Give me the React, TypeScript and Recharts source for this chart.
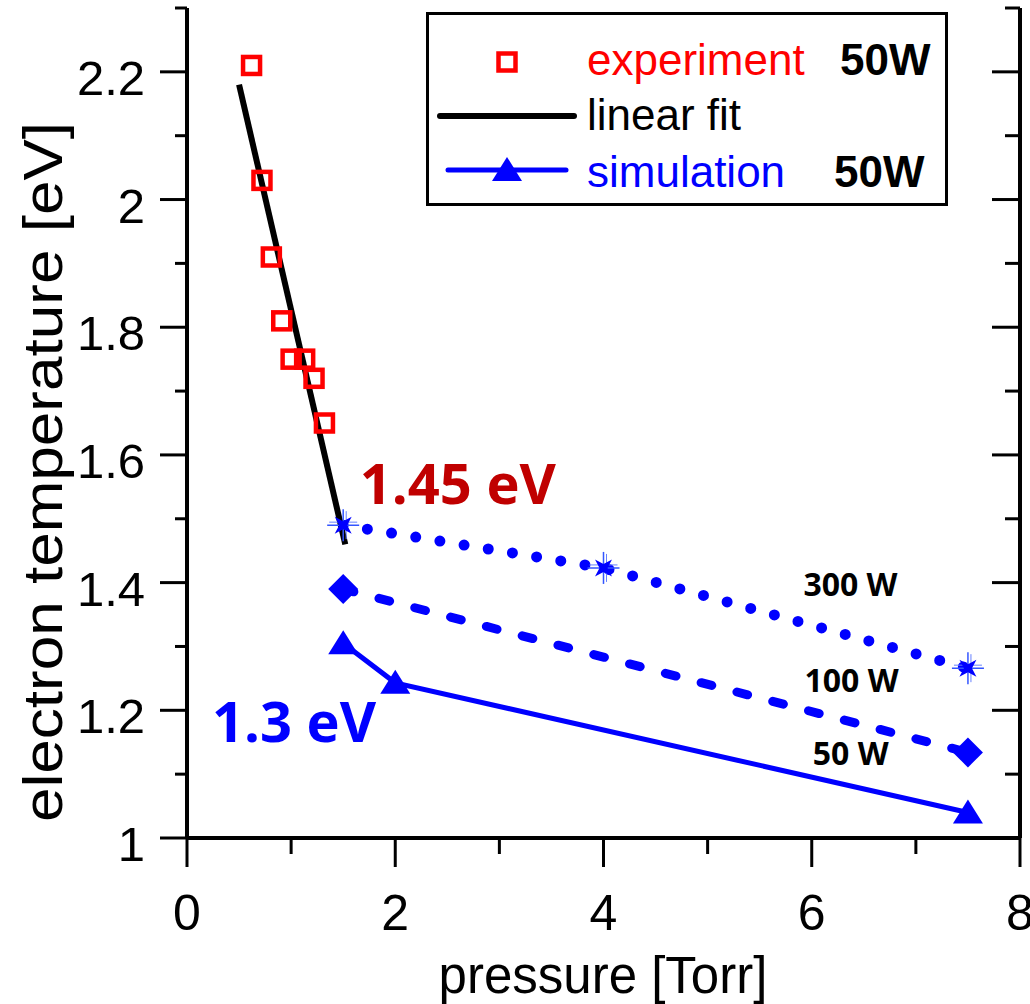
import React from 'react';
import { ComposedChart, Line, Scatter, XAxis, YAxis, Legend } from 'recharts';

// experiment, 50 W
const expPressure = [0.62, 0.72, 0.81, 0.91, 1.0, 1.13, 1.22, 1.32];
const expTemp = [2.21, 2.03, 1.91, 1.81, 1.75, 1.75, 1.72, 1.65];

// linear fit through the experiment
const fitPressure = [0.5, 1.52];
const fitTemp = [2.18, 1.46];

// simulation
const sim300Pressure = [1.5, 4, 7.5];
const sim300Temp = [1.49, 1.423, 1.266];
const sim100Pressure = [1.5, 7.5];
const sim100Temp = [1.39, 1.134];
const sim50Pressure = [1.5, 2, 7.5];
const sim50Temp = [1.305, 1.243, 1.04];

// text notes placed in data coordinates
const noteText = ['1.45 eV', '1.3 eV', '300 W', '100 W', '50 W'];
const notePressure = [1.66, 0.24, 5.92, 5.93, 6.01];
const noteTemp = [1.523, 1.15, 1.379, 1.229, 1.114];

const xTicks = [0, 1, 2, 3, 4, 5, 6, 7, 8];
const yTicks = [1, 1.1, 1.2, 1.3, 1.4, 1.5, 1.6, 1.7, 1.8, 1.9, 2, 2.1, 2.2, 2.3];

const RED = '#ff0000';
const BLUE = '#0000ff';
const DARKRED = '#c00000';
const ARIAL = '"Liberation Sans", Arial, sans-serif';
const BOLDFONT = '"Open Sans", sans-serif';

const pts = (xs: number[], ys: number[]) => xs.map((x, i) => ({ x, y: ys[i] }));

const expData = pts(expPressure, expTemp);
const fitData = pts(fitPressure, fitTemp);
const data300 = pts(sim300Pressure, sim300Temp);
const data100 = pts(sim100Pressure, sim100Temp);
const data50 = pts(sim50Pressure, sim50Temp);
const noteData = noteText.map((t, i) => ({ x: notePressure[i], y: noteTemp[i], text: t }));

const noteStyle: Record<string, { fill: string; size: number }> = {
  '1.45 eV': { fill: DARKRED, size: 56 },
  '1.3 eV': { fill: BLUE, size: 56 },
};

const isMajorY = (v: number) => Math.round(v * 10) % 2 === 0;

const LeftTick = (p: any) => {
  const v = p.payload.value;
  const major = isMajorY(v);
  return (
    <g>
      <line x1={p.x - (major ? 27 : 12)} x2={p.x} y1={p.y} y2={p.y} stroke="#000" strokeWidth={3} />
      {major && (
        <text x={p.x - 42} y={p.y + 23} textAnchor="end" fontFamily={ARIAL} fontSize={49} fill="#000">
          {String(Math.round(v * 10) / 10)}
        </text>
      )}
    </g>
  );
};

// right axis: ticks point inward
const RightTick = (p: any) => {
  const major = isMajorY(p.payload.value);
  return <line x1={p.x - (major ? 28 : 15)} x2={p.x} y1={p.y} y2={p.y} stroke="#000" strokeWidth={3} />;
};

const BottomTick = (p: any) => {
  const v = p.payload.value;
  const major = v % 2 === 0;
  return (
    <g>
      <line x1={p.x} x2={p.x} y1={p.y} y2={p.y + (major ? 29 : 16)} stroke="#000" strokeWidth={3} />
      {major && (
        <text x={p.x} y={p.y + 92} textAnchor="middle" fontFamily={ARIAL} fontSize={50} fill="#000">
          {v}
        </text>
      )}
    </g>
  );
};

const Square = (p: any) => (
  <rect x={p.cx - 8.5} y={p.cy - 8.5} width={17} height={17} fill="none" stroke={RED} strokeWidth={4.5} />
);

const triPath = (cx: number, cy: number) => `M${cx},${cy - 13} L${cx + 15},${cy + 11} L${cx - 15},${cy + 11} Z`;

const Triangle = (p: any) => <path key={`t${p.index}`} d={triPath(p.cx, p.cy)} fill={BLUE} />;

const Diamond = (p: any) => (
  <path
    key={`d${p.index}`}
    d={`M${p.cx},${p.cy - 15} L${p.cx + 15},${p.cy} L${p.cx},${p.cy + 15} L${p.cx - 15},${p.cy} Z`}
    fill={BLUE}
  />
);

const Star = (p: any) => {
  const { cx, cy } = p;
  const poly: string[] = [];
  for (let i = 0; i < 8; i++) {
    const a = (i * Math.PI) / 4 + Math.PI / 4;
    const r = i % 2 === 0 ? 12 : 4;
    poly.push(`${cx + r * Math.cos(a)},${cy + r * Math.sin(a)}`);
  }
  return (
    <g key={`s${p.index}`}>
      <line x1={cx - 16} x2={cx + 16} y1={cy} y2={cy} stroke="#3355ff" strokeWidth={1.5} />
      <line x1={cx - 14} x2={cx + 14} y1={cy - 3} y2={cy - 3} stroke="#6680ff" strokeWidth={1} />
      <line x1={cx} x2={cx} y1={cy - 16} y2={cy + 16} stroke="#3355ff" strokeWidth={1.5} />
      <line x1={cx + 3} x2={cx + 3} y1={cy - 14} y2={cy + 14} stroke="#6680ff" strokeWidth={1} />
      <polygon points={poly.join(' ')} fill={BLUE} />
    </g>
  );
};

const Note = (p: any) => {
  const t = p.payload.text;
  const s = noteStyle[t] || { fill: '#000', size: 32 };
  return (
    <text x={p.cx} y={p.cy} fontFamily={BOLDFONT} fontWeight={700} fontSize={s.size} fill={s.fill}>
      {t}
    </text>
  );
};

const LegendBox = () => (
  <svg width={522} height={194} style={{ display: 'block' }}>
    <rect x={1.5} y={1.5} width={519} height={191} fill="#fff" stroke="#000" strokeWidth={3} />
    <rect x={72.5} y={41.5} width={17} height={17} fill="none" stroke={RED} strokeWidth={4.5} />
    <text x={161} y={63} fontFamily={ARIAL} fontSize={44} fill={RED}>experiment</text>
    <text x={414} y={63} fontFamily={ARIAL} fontWeight={700} fontSize={44} fill="#000">50W</text>
    <line x1={14} x2={148} y1={104} y2={104} stroke="#000" strokeWidth={6} strokeLinecap="round" />
    <text x={161} y={118} fontFamily={ARIAL} fontSize={44} fill="#000">linear fit</text>
    <line x1={22} x2={140} y1={158} y2={158} stroke={BLUE} strokeWidth={5} strokeLinecap="round" />
    <path d={triPath(81, 158)} fill={BLUE} />
    <text x={161} y={175} fontFamily={ARIAL} fontSize={44} fill={BLUE}>simulation</text>
    <text x={408} y={175} fontFamily={ARIAL} fontWeight={700} fontSize={44} fill="#000">50W</text>
  </svg>
);

const YTitle = () => (
  <text
    transform="translate(62,472) rotate(-90)"
    textAnchor="middle"
    fontFamily={ARIAL}
    fontSize={56}
    textLength={700}
    lengthAdjust="spacingAndGlyphs"
    fill="#000"
  >
    electron temperature [eV]
  </text>
);

const XTitle = () => (
  <text x={603} y={993} textAnchor="middle" fontFamily={ARIAL} fontSize={51} fill="#000">
    pressure [Torr]
  </text>
);

export default function App() {
  return (
    <div style={{ position: 'absolute', left: 0, top: 0, width: 1030, height: 1004, background: '#fff' }}>
      <ComposedChart width={1030} height={1004} margin={{ top: 8, right: 9, bottom: 0, left: 0 }}>
        <XAxis
          type="number"
          dataKey="x"
          domain={[0, 8]}
          ticks={xTicks}
          height={166}
          allowDataOverflow
          axisLine={{ stroke: '#000', strokeWidth: 4 }}
          tickLine={false}
          tickSize={0}
          tickMargin={0}
          tick={BottomTick}
          label={XTitle}
        />
        <YAxis
          yAxisId="left"
          type="number"
          dataKey="y"
          domain={[1, 2.3]}
          allowDataOverflow
          ticks={yTicks}
          width={187}
          interval={0}
          axisLine={{ stroke: '#000', strokeWidth: 4 }}
          tickLine={false}
          tickSize={0}
          tickMargin={0}
          tick={LeftTick}
          label={YTitle}
        />
        <YAxis
          yAxisId="right"
          orientation="right"
          type="number"
          dataKey="y"
          domain={[1, 2.3]}
          allowDataOverflow
          ticks={yTicks}
          width={1}
          interval={0}
          axisLine={{ stroke: '#000', strokeWidth: 4 }}
          tickLine={false}
          tickSize={0}
          tickMargin={0}
          tick={RightTick}
        />
        <Legend
          layout="vertical"
          align="center"
          verticalAlign="middle"
          content={LegendBox}
          wrapperStyle={{ position: 'absolute', left: 426, top: 12, width: 522, height: 194 }}
        />
        <Scatter yAxisId="left" data={expData} dataKey="y" shape={Square} isAnimationActive={false} legendType="none" />
        <Line
          yAxisId="left"
          data={data50}
          dataKey="y"
          type="linear"
          stroke={BLUE}
          strokeWidth={5}
          dot={Triangle}
          activeDot={false}
          isAnimationActive={false}
        />
        <Line
          yAxisId="left"
          data={data100}
          dataKey="y"
          type="linear"
          stroke={BLUE}
          strokeWidth={9}
          strokeDasharray="11 26"
          strokeLinecap="round"
          dot={Diamond}
          activeDot={false}
          isAnimationActive={false}
        />
        <Line
          yAxisId="left"
          data={data300}
          dataKey="y"
          type="linear"
          stroke={BLUE}
          strokeWidth={11}
          strokeDasharray="0 24.5"
          strokeLinecap="round"
          dot={Star}
          activeDot={false}
          isAnimationActive={false}
        />
        <Line
          yAxisId="left"
          data={fitData}
          dataKey="y"
          type="linear"
          stroke="#000"
          strokeWidth={6}
          dot={false}
          activeDot={false}
          isAnimationActive={false}
        />
        <Scatter yAxisId="right" data={noteData} dataKey="y" shape={Note} isAnimationActive={false} legendType="none" />
      </ComposedChart>
    </div>
  );
}
